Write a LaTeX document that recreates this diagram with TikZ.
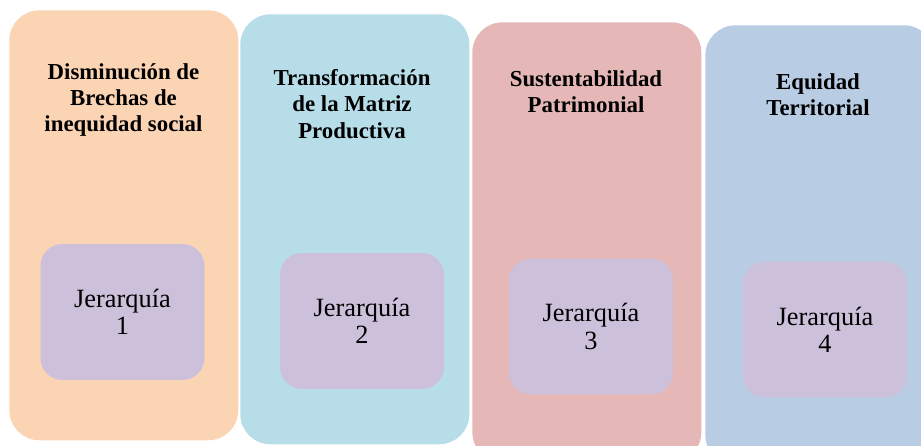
\documentclass[tikz,border=0pt]{standalone}
\usepackage{fontspec}
\setmainfont{Liberation Serif}
\usepackage{tikz}
\usetikzlibrary{positioning}

\definecolor{peach}{HTML}{FBD4B4}
\definecolor{skyblue}{HTML}{B7DDE8}
\definecolor{rosy}{HTML}{E5B8B7}
\definecolor{steel}{HTML}{B8CCE4}
\definecolor{lilac}{HTML}{CCC0DA}

\begin{document}
\begin{tikzpicture}[x=0.02cm,y=-0.02cm,
    pillar node/.style={rectangle,rounded corners=0.6cm,anchor=north west,
      minimum width=4.58cm,minimum height=8.8cm,inner sep=0pt},
    title node/.style={align=center,font=\fontsize{13}{15}\selectfont\bfseries},
    rank node/.style={rectangle,rounded corners=0.44cm,fill=lilac,
      minimum width=3.28cm,minimum height=2.72cm,align=center,
      font=\fontsize{15}{15.5}\selectfont}]

  \useasboundingbox (0,0) rectangle (921,446);
  \clip (0,0) rectangle (921,446);

  \node[pillar node,fill=peach,minimum height=8.6cm] (brechas) at (9,10) {};
  \node[pillar node,fill=skyblue,minimum height=8.6cm] (matriz) at (240,14) {};
  \node[pillar node,fill=rosy] (patrimonio) at (472,22) {};
  \node[pillar node,fill=steel] (territorio) at (705,25) {};

  \node[title node] (t1) at (123.5,100) {Disminución de\\Brechas de\\inequidad social};
  \node[title node] (t2) at (352,104) {Transformación\\de la Matriz\\Productiva};
  \node[title node] (t3) at (586,92) {Sustentabilidad\\Patrimonial};
  \node[title node] (t4) at (818,95) {Equidad\\Territorial};

  \node[rank node] (j1) at (122.5,312) {Jerarquía\\1};
  \node[rank node] (j2) at (362,321) {Jerarquía\\2};
  \node[rank node] (j3) at (591,326.5) {Jerarquía\\3};
  \node[rank node] (j4) at (825,329.5) {Jerarquía\\4};

\end{tikzpicture}
\end{document}
